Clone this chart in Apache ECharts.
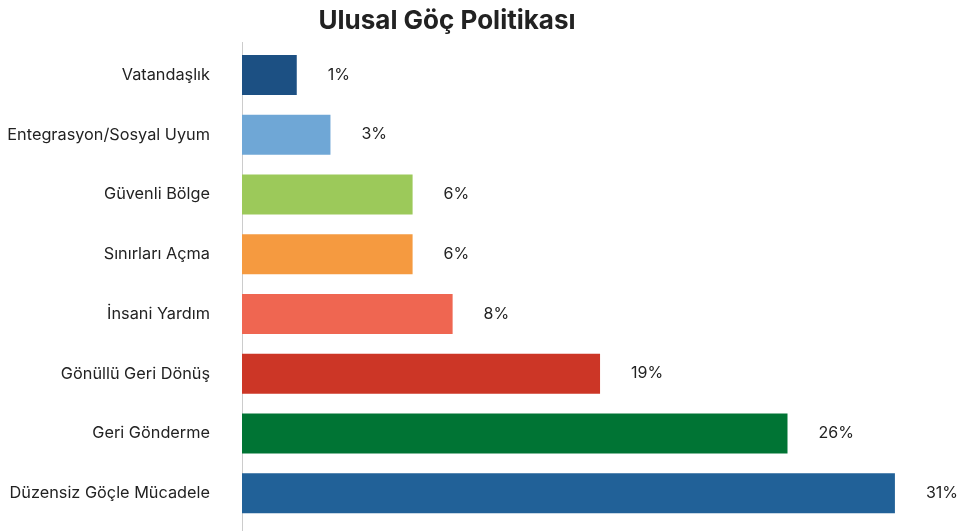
<!DOCTYPE html>
<html>
<head>
<meta charset="utf-8">
<script src="https://cdn.jsdelivr.net/npm/echarts@6/dist/echarts.min.js"></script>
<style>html,body{margin:0;padding:0;background:#fff}#c{width:968px;height:531px}</style>
</head>
<body>
<div id="c"></div>
<script>
const categories = ["Vatandaşlık","Entegrasyon/Sosyal Uyum","Güvenli Bölge","Sınırları Açma","İnsani Yardım","Gönüllü Geri Dönüş","Geri Gönderme","Düzensiz Göçle Mücadele"];
const values = [2.6, 4.2, 8.1, 8.1, 10.0, 17.0, 25.9, 31.0];
const valueLabels = ["1%","3%","6%","6%","8%","19%","26%","31%"];
const colors = ["#1c5083","#6fa7d6","#9cc95a","#f59a40","#ef6651","#cc3626","#007434","#216198"];

const chart = echarts.init(document.getElementById('c'));
chart.setOption({
  animation:false,
  title:{text:"Ulusal Göç Politikası", left:442, textAlign:'center', top:3,
    textStyle:{fontFamily:'Inter', fontSize:26, fontWeight:'bold', color:'#222'}},
  grid:{left:242, right:0, top:45, bottom:8},
  xAxis:{type:'value', min:0, max:34.47, show:false},
  yAxis:{type:'category', inverse:true, data:categories,
    axisLine:{show:false},
    axisTick:{show:false},
    axisLabel:{margin:32, fontFamily:'Inter', fontSize:16.3, color:'#222'}},
  graphic:[{type:'line', shape:{x1:242.5, y1:42, x2:242.5, y2:531}, style:{stroke:'#cccccc', lineWidth:1}, silent:true}],
  series:[{type:'bar', barWidth:40,
    data: values.map((v,i)=>({value:v, itemStyle:{color:colors[i]}})),
    label:{show:true, position:'right', distance:31, fontFamily:'Inter', fontSize:16, color:'#222',
      formatter:p=>valueLabels[p.dataIndex]}}]
});
</script>
</body>
</html>
